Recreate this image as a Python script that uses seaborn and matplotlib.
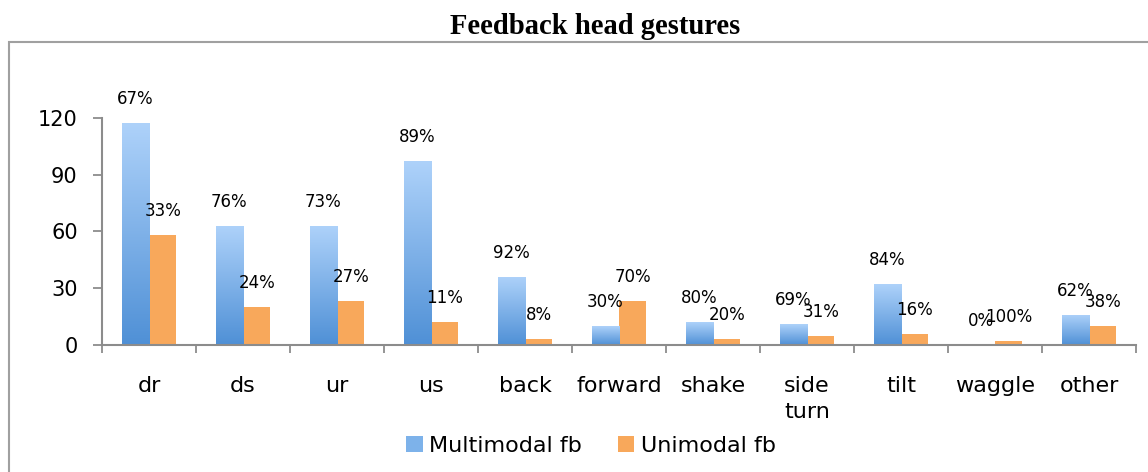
import numpy as np
import pandas as pd
import matplotlib
matplotlib.use("Agg")
import matplotlib.pyplot as plt
import seaborn as sns
from matplotlib.colors import LinearSegmentedColormap
from matplotlib.patches import Patch, Rectangle

# ---- data ----
gestures = ["dr", "ds", "ur", "us", "back", "forward", "shake", "side turn", "tilt", "waggle", "other"]
multimodal = [117, 63, 63, 97, 36, 10, 12, 11, 32, 0, 16]
unimodal = [58, 20, 23, 12, 3, 23, 3, 5, 6, 2, 10]
multi_pct = ["67%", "76%", "73%", "89%", "92%", "30%", "80%", "69%", "84%", "0%", "62%"]
uni_pct = ["33%", "24%", "27%", "11%", "8%", "70%", "20%", "31%", "16%", "100%", "38%"]
series_names = ["Multimodal fb", "Unimodal fb"]
yticks = [0, 30, 60, 90, 120]
title = "Feedback head gestures"

df = pd.DataFrame({
    "gesture": gestures * 2,
    "series": [series_names[0]] * len(gestures) + [series_names[1]] * len(gestures),
    "value": multimodal + unimodal,
})

sns.set_theme(style="white")
plt.rcParams["font.family"] = ["DejaVu Sans"]
plt.rcParams["text.color"] = "black"
plt.rcParams["xtick.color"] = "black"
plt.rcParams["ytick.color"] = "black"

BLUE_TOP = "#AED2FA"
BLUE_BOT = "#4F90D6"
BLUE_MID = "#7DB2EA"
ORANGE = "#F8A85B"
AXIS = "#8C8C8C"

W, H = 1148, 472
fig = plt.figure(figsize=(W / 100, H / 100), dpi=100)
fig.patch.set_facecolor("white")

# outer chart border
fig.add_artist(Rectangle((9 / W, -0.05), 1.2, (H - 42) / H + 0.05, transform=fig.transFigure,
                         fill=False, edgecolor="#A0A0A0", linewidth=1.5))

x0, x1 = 102, 1136
y0, y1 = 345, 117.7
ax = fig.add_axes([x0 / W, (H - y0) / H, (x1 - x0) / W, (y0 - y1) / H])

sns.barplot(data=df, x="gesture", y="value", hue="series", order=gestures,
            hue_order=series_names, palette=[BLUE_MID, ORANGE], width=0.58,
            saturation=1, legend=False, ax=ax, errorbar=None)

# gradient fill for the multimodal bars
cmap = LinearSegmentedColormap.from_list("bl", [BLUE_BOT, BLUE_TOP])
grad = np.linspace(1, 0, 256).reshape(-1, 1)
for p in ax.containers[0]:
    h = p.get_height()
    if h <= 0:
        continue
    x = p.get_x()
    w = p.get_width()
    im = ax.imshow(grad, extent=[x, x + w, 0, h], aspect="auto", cmap=cmap,
                   origin="upper", zorder=p.get_zorder() + 0.1, interpolation="bicubic")
    im.set_clip_path(p)
for p in ax.containers[1]:
    p.set_edgecolor("none")

# percentage labels
off = 24 * 72 / 100
for cont, labels in zip(ax.containers, [multi_pct, uni_pct]):
    for p, t in zip(cont, labels):
        ax.annotate(t, (p.get_x() + p.get_width() / 2, p.get_height()),
                    xytext=(0, off), textcoords="offset points", ha="center", va="center",
                    fontsize=12, color="black", annotation_clip=False, zorder=5)

ax.set_xlim(-0.5, len(gestures) - 0.5)
ax.set_ylim(0, 120)
ax.set_yticks(yticks)
ax.set_yticklabels([str(v) for v in yticks])
ax.set_xticks(range(len(gestures)))
ax.set_xticklabels([g.replace(" ", "\n") for g in gestures], linespacing=1.4)
ax.set_xticks(np.arange(-0.5, len(gestures)), minor=True)
ax.set_xlabel("")
ax.set_ylabel("")

for s in ["top", "right"]:
    ax.spines[s].set_visible(False)
for s in ["left", "bottom"]:
    ax.spines[s].set_color(AXIS)
    ax.spines[s].set_linewidth(1.5)

ax.tick_params(axis="y", which="major", length=6.5, width=1.3, color=AXIS,
               labelsize=15, pad=11, left=True, direction="out", labelcolor="black")
ax.tick_params(axis="x", which="major", length=0, labelsize=16, pad=22, labelcolor="black")
ax.tick_params(axis="x", which="minor", length=5.5, width=1.3, color=AXIS, bottom=True, direction="out")
for lab in ax.get_xticklabels():
    lab.set_verticalalignment("top")

ax.set_facecolor("white")
ax.grid(False)

fig.text(595 / W, 1 - 27 / H, title, ha="center", va="center", color="black",
         fontsize=20.6, fontweight="bold", family=["Liberation Serif", "DejaVu Serif"])

handles = [Patch(facecolor=BLUE_MID, edgecolor="none"), Patch(facecolor=ORANGE, edgecolor="none")]
fig.legend(handles, series_names, loc="center", bbox_to_anchor=(591 / W, 1 - 446 / H),
           ncol=2, frameon=False, fontsize=16, handlelength=0.75, handleheight=0.75,
           handletextpad=0.3, columnspacing=1.6, borderaxespad=0, labelcolor="black")

fig.savefig("out.png", dpi=100, facecolor="white")
